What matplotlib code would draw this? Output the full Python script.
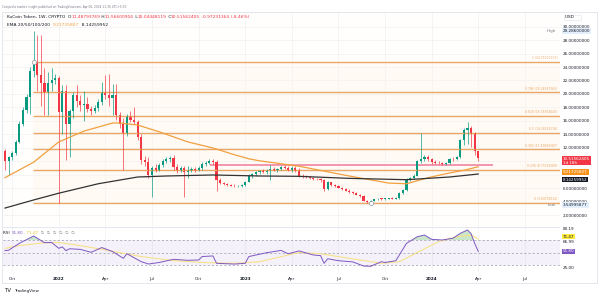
import matplotlib
matplotlib.use("Agg")
import matplotlib.pyplot as plt
from matplotlib.patches import Rectangle
import numpy as np
import pandas as pd

# weekly candles, KuCoin Token
start_date = "2021-09-20"
opens = [11.5, 10.0, 10.6, 11.2, 12.9, 15.6, 17.6, 19.5, 23.4, 24.7,
         22.8, 21.6, 20.3, 21.6, 22.0, 22.4, 17.3, 20.4, 15.6, 17.5,
         19.8, 18.9, 18.3, 18.5, 17.8, 17.5, 17.9, 18.8, 20.1, 19.9,
         19.4, 19.9, 16.9, 15.6, 14.2, 16.6, 16.2, 15.9, 13.7, 10.2,
         9.9, 8.0, 9.0, 8.8, 9.5, 10.0, 10.4, 10.5, 9.2, 8.6,
         9.1, 8.5, 8.7, 8.9, 8.8, 9.1, 9.6, 9.8, 10.1, 9.95,
         7.3, 6.8, 6.6, 6.5, 6.4, 6.3, 6.35, 6.5, 7.0, 7.9,
         8.1, 8.4, 8.6, 8.5, 8.7, 8.9, 8.8, 8.9, 9.2, 9.1,
         8.7, 9.1, 8.7, 7.9, 7.8, 7.7, 7.6, 7.45, 7.35, 7.25,
         5.9, 6.9, 6.5, 6.3, 6.1, 5.9, 5.7, 5.5, 5.3, 5.1,
         4.9, 4.2, 3.95, 4.2, 4.4, 4.5, 4.45, 4.5, 4.55, 4.5,
         4.6, 5.3, 5.8, 7.3, 7.6, 7.9, 10.0, 10.3, 10.7, 10.3,
         9.95, 9.8, 9.75, 9.7, 9.75, 10.4, 10.3, 10.6, 13.2, 14.7,
         14.95, 14.2, 11.48793769]
highs = [11.8, 10.8, 11.5, 13.2, 16.0, 18.0, 20.0, 24.0, 29.286, 28.8,
         28.7, 23.8, 23.3, 23.8, 23.0, 22.6, 21.3, 21.3, 17.8, 20.3,
         21.3, 19.8, 20.5, 19.5, 18.2, 18.4, 19.3, 21.8, 22.8, 23.0,
         21.5, 21.5, 17.3, 16.5, 17.0, 17.5, 18.0, 16.2, 14.0, 10.8,
         10.6, 9.4, 9.6, 9.8, 10.3, 10.6, 10.8, 10.9, 9.6, 9.4,
         9.3, 9.3, 9.2, 9.2, 9.3, 9.9, 10.0, 10.3, 10.3, 10.2,
         7.5, 7.0, 6.8, 6.7, 6.6, 6.5, 6.6, 7.1, 8.1, 8.3,
         8.6, 8.8, 8.9, 8.9, 9.5, 9.2, 9.1, 9.4, 9.5, 9.3,
         9.3, 9.3, 9.0, 8.1, 7.95, 7.85, 7.75, 7.6, 7.5, 7.4,
         7.1, 7.0, 6.6, 6.45, 6.25, 6.05, 5.85, 5.65, 5.45, 5.2,
         5.0, 4.3, 4.3, 4.45, 4.6, 4.65, 4.6, 4.65, 4.7, 4.8,
         5.5, 5.9, 7.5, 7.7, 8.1, 10.2, 14.2, 10.9, 10.9, 10.5,
         10.2, 10.0, 9.95, 9.9, 10.5, 10.6, 10.8, 13.4, 15.0, 15.9,
         15.3, 14.4, 11.56600904]
lows = [8.8, 8.0, 10.2, 11.0, 12.7, 15.2, 17.2, 17.0, 22.5, 20.5,
        18.2, 16.9, 16.9, 20.5, 21.5, 3.85, 14.0, 10.2, 10.6, 16.5,
        18.0, 17.5, 16.0, 17.4, 16.9, 17.2, 17.5, 18.4, 19.3, 18.2,
        16.9, 16.2, 15.0, 8.7, 13.8, 15.9, 15.5, 13.2, 9.7, 9.4,
        7.6, 4.7, 8.5, 8.6, 9.2, 9.8, 9.9, 8.8, 8.3, 8.5,
        4.8, 7.5, 8.4, 8.5, 8.6, 8.8, 9.4, 9.6, 9.7, 5.6,
        6.6, 6.5, 6.4, 6.3, 6.2, 6.2, 6.2, 6.4, 6.9, 7.6,
        7.9, 8.2, 8.3, 8.2, 7.25, 8.6, 8.5, 8.7, 8.9, 8.6,
        8.5, 8.5, 7.7, 7.6, 7.5, 7.4, 7.3, 7.2, 7.0, 5.7,
        5.8, 6.4, 6.2, 6.0, 5.8, 5.6, 5.4, 5.2, 5.0, 4.8,
        4.1, 3.8, 3.55, 4.1, 4.3, 4.35, 4.3, 4.4, 4.4, 4.4,
        4.5, 5.2, 5.7, 7.1, 7.4, 7.8, 9.8, 10.0, 10.1, 9.7,
        9.7, 9.6, 9.5, 9.5, 9.6, 10.1, 10.2, 10.5, 12.4, 12.6,
        12.2, 11.0, 10.04448119]
closes = [10.0, 10.6, 11.2, 12.9, 15.6, 17.6, 19.5, 23.4, 24.7, 22.8,
          21.6, 20.3, 21.6, 22.0, 22.4, 17.3, 20.4, 15.6, 17.5, 19.8,
          18.9, 18.3, 18.5, 17.8, 17.5, 17.9, 18.8, 20.1, 19.9, 19.4,
          19.9, 16.9, 15.6, 14.2, 16.6, 16.2, 15.9, 13.7, 10.2, 9.9,
          8.0, 9.0, 8.8, 9.5, 10.0, 10.4, 10.5, 9.2, 8.6, 9.1,
          8.5, 8.7, 8.9, 8.8, 9.1, 9.6, 9.8, 10.1, 9.95, 7.3,
          6.8, 6.6, 6.5, 6.4, 6.3, 6.35, 6.5, 7.0, 7.9, 8.1,
          8.4, 8.6, 8.5, 8.7, 8.9, 8.8, 8.9, 9.2, 9.1, 8.7,
          9.1, 8.7, 7.9, 7.8, 7.7, 7.6, 7.45, 7.35, 7.25, 5.9,
          6.9, 6.5, 6.3, 6.1, 5.9, 5.7, 5.5, 5.3, 5.1, 4.9,
          4.2, 3.95, 4.2, 4.4, 4.5, 4.45, 4.5, 4.55, 4.5, 4.6,
          5.3, 5.8, 7.3, 7.6, 7.9, 10.0, 10.3, 10.7, 10.3, 9.95,
          9.8, 9.75, 9.7, 9.75, 10.4, 10.3, 10.6, 13.2, 14.7, 14.95,
          14.2, 11.48793769, 10.51562405]

# EMA 50 (orange) and EMA 200 (black), read at a few weeks
ema50_week = [0, 8, 15, 22, 30, 32, 37, 43, 51, 58, 64, 68, 71, 82, 96, 107, 112, 118, 124, 128, 132]
ema50_vals = [7.6, 9.9, 12.9, 14.5, 15.7, 15.7, 15.4, 14.4, 12.9, 12.0, 11.0, 10.4, 10.1, 9.3, 7.85,
              6.8, 6.7, 7.6, 8.3, 8.7, 9.21725807]
ema200_week = [0, 8, 15, 26, 37, 45, 58, 71, 82, 96, 112, 124, 132]
ema200_vals = [3.1, 4.3, 5.3, 6.7, 7.7, 7.85, 8.0, 7.85, 7.8, 7.5, 7.3, 7.7, 8.14259952]

# fibonacci retracement
fib_levels = ["1", "0.786", "0.618", "0.5", "0.382", "0.236", "0"]
fib_prices = [24.715, 20.24937262, 16.74364645, 14.28129116, 11.81893587, 8.77229289, 3.84758212]

# RSI and its moving average
rsi_week = [0, 1, 4, 8, 11, 13, 15, 16, 17, 18, 21, 24, 27, 30, 33, 34, 38, 40, 43, 47,
            51, 54, 55, 58, 59, 64, 67, 68, 73, 77, 79, 82, 86, 88, 89, 90, 93, 97, 100, 102,
            105, 106, 109, 112, 115, 117, 119, 122, 125, 127, 129, 130, 131, 132]
rsi_vals = [53, 53.6, 64.7, 76.4, 65.7, 66, 56.7, 59, 53, 56, 55, 50.3, 57.9, 51.5, 40.7, 48, 35.3, 31.6, 34, 39.1,
            37.5, 38, 43.5, 44.5, 32.7, 31.5, 32.7, 43.5, 49.7, 53.3, 48, 52.5, 46, 45, 32.7, 40, 36.9, 35, 28.4, 28,
            35.3, 34, 36.9, 64.7, 75.3, 78, 71, 70, 73, 80.7, 86, 80, 64.7, 51.8]
rsi_ma_week = [0, 4, 11, 15, 21, 29, 38, 47, 56, 64, 71, 79, 82, 88, 96, 105, 110, 116, 121, 126, 130, 132]
rsi_ma_vals = [56.7, 61, 65.7, 66, 61, 53, 43.5, 36.9, 33.8, 32.7, 35.3, 46, 50, 48, 40.7, 32.7, 35.3,
               53, 67.6, 75, 78, 71.47]

tick_dates = ["2021-10-04", "2022-01-03", "2022-04-04", "2022-07-04", "2022-10-03", "2023-01-02",
              "2023-04-03", "2023-07-03", "2023-10-02", "2024-01-01", "2024-04-01", "2024-07-01"]
tick_labels = ["Oct", "2022", "Apr", "Jul", "Oct", "2023", "Apr", "Jul", "Oct", "2024", "Apr", "Jul"]
price_ticks = list(range(2, 31, 2))
hidden_ticks = [8, 10]  # covered by the price boxes on the scale

W, H = 600, 298
UP, DOWN = "#089981", "#f23645"
FIB_C = "#e9a866"
TXT = "#131722"
GREY = "#787b86"


def fx(px):
    return px / W


def fy(py):
    return 1 - py / H


def main():
    fig = plt.figure(figsize=(W / 100, H / 100), dpi=100)
    fig.patch.set_facecolor("white")

    ax = fig.add_axes([fx(3), fy(226), fx(557), 214 / H])
    ax2 = fig.add_axes([fx(3), fy(272), fx(557), 45 / H], sharex=ax)

    x = np.arange(len(closes))
    o, h, l, c = map(np.array, (opens, highs, lows, closes))
    colors = np.where(c >= o, UP, DOWN)
    xmin, xmax = -0.56, 154.8

    ax.set_facecolor("#fffefc")
    ax.set_xlim(xmin, xmax)
    ax.set_ylim(0.44, 32.15)

    # fib retracement
    fib_x0 = 7.8
    ax.fill_between([fib_x0, xmax], fib_prices[-1], fib_prices[0], color="#fff3e3", alpha=0.3, lw=0)
    for lev, p in zip(fib_levels, fib_prices):
        ax.hlines(p, fib_x0, xmax, color=FIB_C, lw=1.0)
        ax.text(154.0, p + 0.25, f"{lev} ({p:.8f})", color=FIB_C, fontsize=2.2,
                ha="right", va="bottom")

    # zone rectangle
    ax.fill_between([57.2, 136.1], 9.28, 9.58, color="#ee6f92", alpha=0.7, lw=0)

    # candles
    ax.vlines(x, l, h, color=colors, lw=0.6, alpha=0.8)
    body = np.maximum(np.abs(c - o), 0.08)
    ax.bar(x, body, bottom=np.minimum(o, c), width=0.6, color=colors, lw=0)

    ax.plot(ema50_week, ema50_vals, color="#f0a040", lw=0.9)
    ax.plot(ema200_week, ema200_vals, color="#333333", lw=0.9)

    ax.plot([8, 102], [fib_prices[0], fib_prices[-1]], "o", ms=3, mfc="white", mec="#9598a1", mew=0.5)

    # grid and axes
    tick_pos = [(pd.Timestamp(d) - pd.Timestamp(start_date)).days / 7 for d in tick_dates]
    for a in (ax, ax2):
        for s in a.spines.values():
            s.set_visible(False)
        for t in tick_pos:
            a.axvline(t, color="#f0f1f4", lw=0.5, zorder=0)
    for p in price_ticks:
        ax.axhline(p, color="#f0f1f4", lw=0.5, zorder=0)

    ax.yaxis.tick_right()
    ax.set_yticks(price_ticks)
    ax.set_yticklabels(["" if p in hidden_ticks else f"{p:.8f}" for p in price_ticks])
    ax.tick_params(axis="y", length=0, pad=2.2, labelsize=3, colors=TXT)
    ax.tick_params(axis="x", length=0, labelbottom=False)

    # RSI pane
    ax2.set_facecolor("white")
    ax2.set_ylim(18.8, 90.8)
    ax2.fill_between([xmin, xmax], 30, 70, color="#7e57c2", alpha=0.08, lw=0)
    for lv in (70, 50, 30):
        ax2.axhline(lv, color="#9598a1", lw=0.5, ls=(0, (3, 3)))
    rw = np.array(rsi_week)
    rv = np.array(rsi_vals, dtype=float)
    ax2.fill_between(rw, rv, 70, where=rv > 70, interpolate=True, color="#4caf50", alpha=0.3, lw=0)
    ax2.fill_between(rw, rv, 30, where=rv < 30, interpolate=True, color="#f23645", alpha=0.25, lw=0)
    ax2.plot(rsi_ma_week, rsi_ma_vals, color="#f7e08a", lw=0.8)
    ax2.plot(rw, rv, color="#7e57c2", lw=0.7)
    ax2.set_yticks([])
    ax2.set_xticks(tick_pos)
    ax2.set_xticklabels(tick_labels)
    ax2.tick_params(axis="x", length=0, pad=3.5, labelsize=3, colors=TXT)
    for lab in ax2.get_xticklabels():
        if lab.get_text().isdigit():
            lab.set_fontweight("bold")
    ax2.axhline(90.8, color="#e0e3eb", lw=0.6)

    # outer frame
    fig.add_artist(Rectangle((fx(2), fy(283)), fx(595), 271 / H, transform=fig.transFigure,
                             fill=False, ec="#e0e3eb", lw=0.6))

    renderer = fig.canvas.get_renderer()

    def line(x_px, y_px, parts, size):
        for s, col in parts:
            t = fig.text(fx(x_px), fy(y_px), s, color=col, fontsize=size, va="center", ha="left")
            x_px += t.get_window_extent(renderer=renderer).width

    line(2, 7, [("Coinpedia market insight published on TradingView.com, Apr 06, 2024 11:36 UTC+5:30", GREY)], 2.1)
    line(7, 17, [("KuCoin Token, 1W, CRYPTO  O", TXT), ("11.48793769", DOWN), (" H", TXT), ("11.56600904", DOWN),
                 (" L", TXT), ("10.04448119", DOWN), (" C", TXT), ("10.51562405", DOWN),
                 (" -0.97231364 (-8.46%)", DOWN)], 3.2)
    line(7, 25, [("EMA 20/50/100/200  ", TXT), ("9.21725807", "#f0a040"), ("  8.14259952", TXT)], 3.2)
    line(3, 233, [("RSI  ", TXT), ("51.80", "#7e57c2"), ("  71.47", "#e6c229"),
                  ("  \u2205  \u2205  \u2205  \u2205  \u2205  \u2205", GREY)], 3.0)
    line(4, 291, [("TV ", TXT)], 4)
    line(14, 291, [("TradingView", TXT)], 3)

    # right scale labels
    def py(ax_, p):
        return H - ax_.transData.transform((0, p))[1]

    def box(y_px, s, fc, tc, size=3, ec="none", x_px=563):
        fig.text(fx(x_px), fy(y_px), s, color=tc, fontsize=size, va="center", ha="left",
                 linespacing=1.0, bbox=dict(boxstyle="square,pad=0.2", fc=fc, ec=ec, lw=0.4))

    box(17.5, "USD     ", "white", TXT, ec="#e0e3eb", x_px=565)
    fig.text(fx(556), fy(py(ax, 29.286)), "High", fontsize=3, color=GREY, ha="right", va="center")
    box(py(ax, 29.286), "29.28600000", "#e3effd", TXT)
    box(py(ax, 10.51562405) + 2.5, "10.51562405\n1d 18h", DOWN, "white")
    box(py(ax, 9.21725807) + 5.5, "9.21725807", "#f7931a", "white")
    box(py(ax, 8.14259952) + 5.5, "8.14259952", TXT, "white")
    fig.text(fx(556), fy(py(ax, 3.54995877)), "Low", fontsize=3, color=GREY, ha="right", va="center")
    box(py(ax, 3.54995877), "3.54995877", "#e3effd", TXT)

    fig.text(fx(563), fy(228.5), "80.19", fontsize=3, color=TXT, va="center", ha="left")
    for v in (66.99, 25.00):
        fig.text(fx(563), fy(py(ax2, v)), f"{v:.2f}", fontsize=3, color=TXT, va="center", ha="left")
    box(py(ax2, 71.47) - 2.5, "71.47", "#ffeb3b", TXT)
    box(py(ax2, 51.80), "51.80", "#7e57c2", "white")

    fig.savefig("out.png", dpi=100, facecolor="white")


if __name__ == "__main__":
    main()
